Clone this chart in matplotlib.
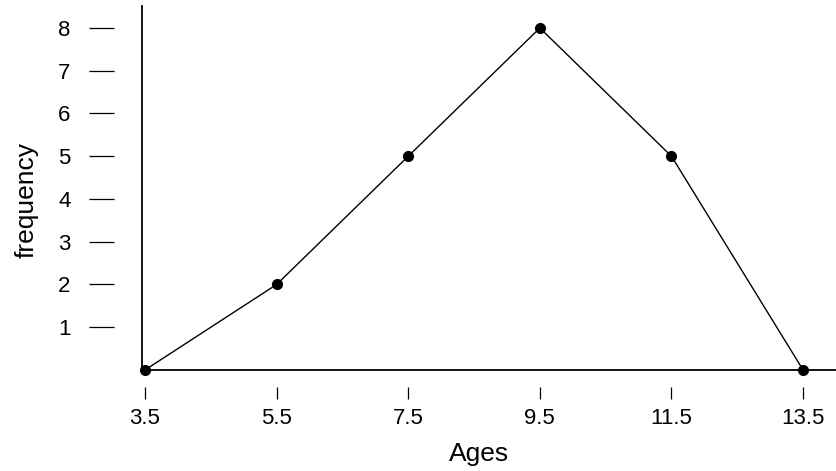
import matplotlib
matplotlib.use("Agg")
import matplotlib.pyplot as plt

ages = [3.5, 5.5, 7.5, 9.5, 11.5, 13.5]
frequency = [0, 2, 5, 8, 5, 0]
y_ticks = [1, 2, 3, 4, 5, 6, 7, 8]

plt.rcParams['font.family'] = ['Liberation Sans', 'DejaVu Sans']

W, H = 836, 471
fig = plt.figure(figsize=(W / 100, H / 100), dpi=100)
ax = fig.add_axes([114 / W, (H - 387) / H, (836 - 114) / W, 387 / H])

ax.set_xlim(3.029, 14.0)
ax.set_ylim(-0.398, 8.655)
for s in ax.spines.values():
    s.set_visible(False)

# axis-like lines
ax.axhline(0, xmin=(143 - 114) / (836 - 114), xmax=1, color='black', lw=1.3)
ax.axvline(3.455, ymin=17 / 387, ymax=(387 - 6) / 387, color='black', lw=1.3)

ax.plot(ages, frequency, color='black', lw=1.0, marker='o', markersize=7, zorder=3)

ax.set_xticks(ages)
ax.set_xticklabels([f"{a:g}" for a in ages])
ax.set_yticks(y_ticks)
ax.tick_params(axis='x', length=8.5, width=0.9, pad=6.5, labelsize=16)
ax.tick_params(axis='y', length=17.8, width=0.9, pad=13.5, labelsize=16)

ax.set_xlabel("Ages", fontsize=19, va='center')
ax.xaxis.set_label_coords((479 - 114) / 722, (387 - 454) / 387)
ax.set_ylabel("frequency", fontsize=19, va='center')
ax.yaxis.set_label_coords((27 - 114) / 722, (387 - 200) / 387)

fig.savefig("out.png", dpi=100)
